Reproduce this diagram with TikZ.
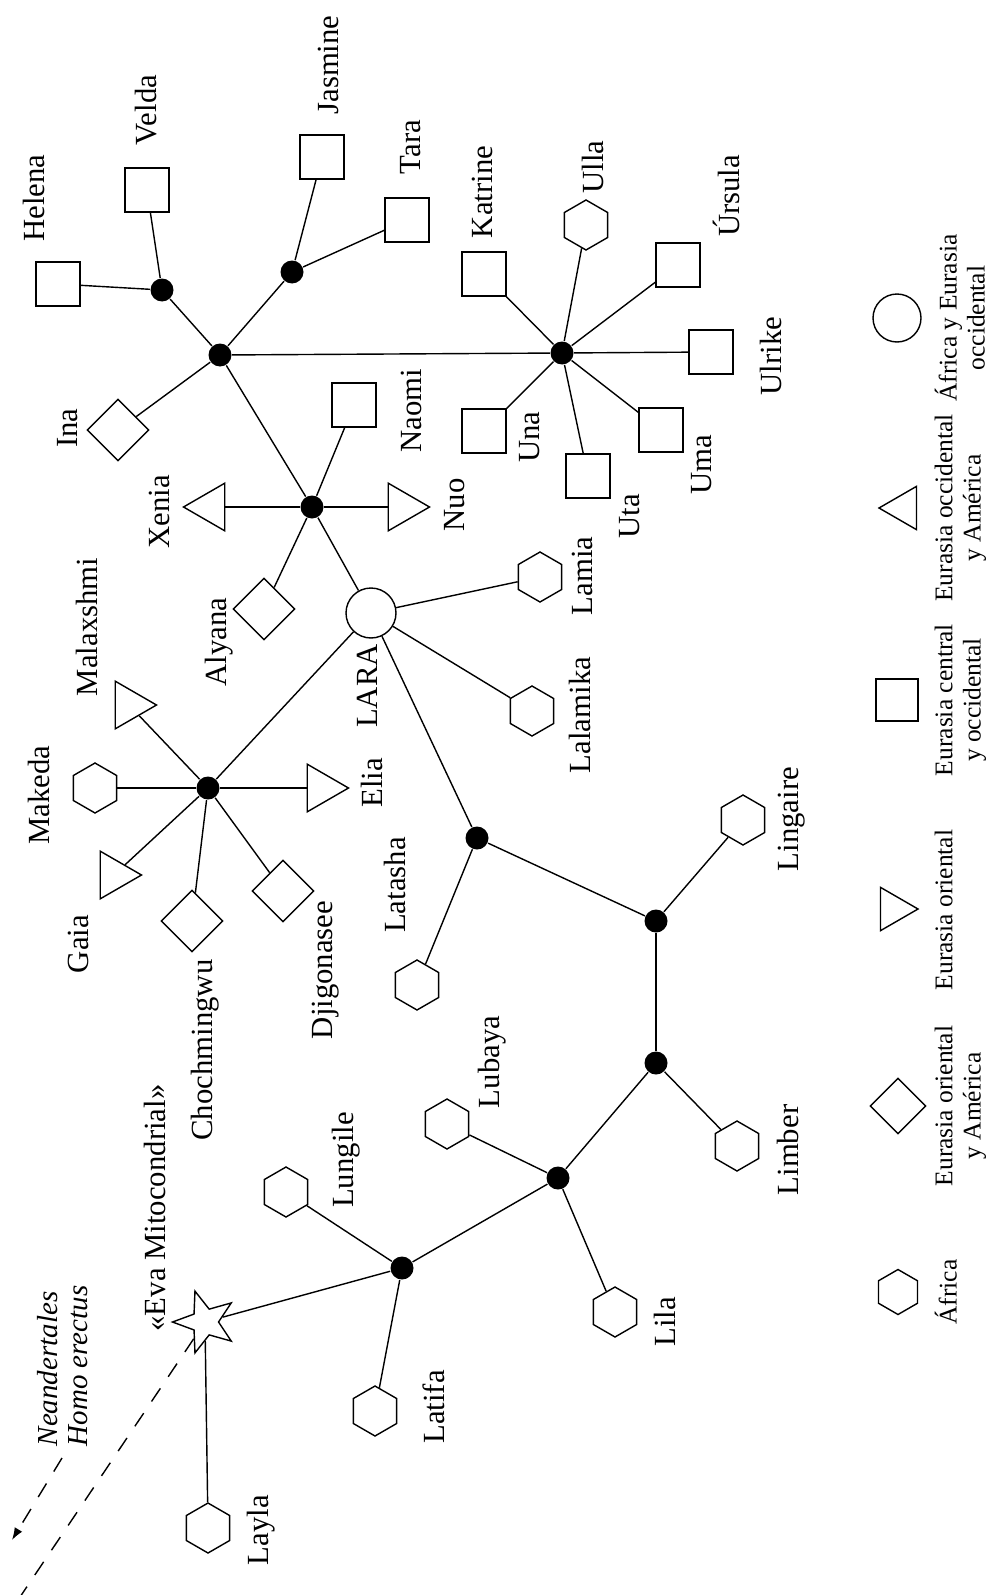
\documentclass[tikz,border=0pt]{standalone}
\usepackage{fontspec}
\setmainfont{Liberation Serif}
\usetikzlibrary{shapes.geometric,arrows.meta}
\begin{document}
\begin{tikzpicture}[x=0.02cm,y=-0.02cm,line width=0.8pt,
  hexa/.style={draw,fill=white,regular polygon,regular polygon sides=6,regular polygon rotate=30,minimum size=1cm,inner sep=0pt},
  lhexa/.style={hexa,minimum size=0.9cm},
  sq/.style={draw,fill=white,rectangle,minimum size=0.88cm,inner sep=0pt},
  lsq/.style={sq,minimum size=0.84cm},
  dia/.style={draw,fill=white,diamond,aspect=1,minimum width=1.24cm,minimum height=1.24cm,inner sep=0pt},
  ldia/.style={dia,minimum width=1.12cm,minimum height=1.12cm},
  trir/.style={draw,fill=white,regular polygon,regular polygon sides=3,regular polygon rotate=-90,minimum size=1.1cm,inner sep=0pt},
  tril/.style={draw,fill=white,regular polygon,regular polygon sides=3,regular polygon rotate=90,minimum size=1.1cm,inner sep=0pt},
  ring/.style={draw,fill=white,circle,minimum size=1cm,inner sep=0pt},
  hub/.style={circle,fill=black,minimum size=0.46cm,inner sep=0pt},
  nm/.style={rotate=90,inner sep=0pt,font=\fontsize{17.5}{20}\selectfont},
  itl/.style={rotate=90,inner sep=0pt,font=\fontsize{16.5}{19}\selectfont\itshape},
  leg/.style={rotate=90,inner sep=0pt,anchor=north,align=center,font=\fontsize{14.5}{16}\selectfont},
  dsh/.style={dash pattern=on 9pt off 8pt}]
\useasboundingbox (0,0) rectangle (990,1595);
\fill[white] (0,0) rectangle (990,1595);

% hubs
\node[hub] (hA) at (220,355) {};
\node[hub] (hHV) at (162,290) {};
\node[hub] (hJT) at (292,272) {};
\node[hub] (hU) at (562,353) {};
\node[hub] (hX) at (312,507) {};
\node[hub] (hM) at (208,788) {};
\node[hub] (hLat) at (477,838) {};
\node[hub] (hLing) at (656,921) {};
\node[hub] (hLim) at (656,1063) {};
\node[hub] (hLub) at (558,1178) {};
\node[hub] (hEva) at (402,1268) {};

% individuals
\node[sq] (Helena) at (58,284) {};
\node[sq] (Velda) at (147,190) {};
\node[sq] (Jasmine) at (322,157) {};
\node[sq] (Tara) at (407,220) {};
\node[dia] (Ina) at (118,430) {};
\node[sq] (Katrine) at (484,274) {};
\node[hexa] (Ulla) at (586,225) {};
\node[sq] (Ursula) at (678,265) {};
\node[sq] (Ulrike) at (711,352) {};
\node[sq] (Uma) at (661,430) {};
\node[sq] (Uta) at (588,476) {};
\node[sq] (Una) at (484,431) {};
\node[sq] (Naomi) at (354,405) {};
\node[tril] (Xenia) at (211,507) {};
\node[trir] (Nuo) at (402,507) {};
\node[dia] (Alyana) at (264,609) {};
\node[ring] (LARA) at (371,613) {};
\node[hexa] (Lamia) at (540,577) {};
\node[hexa] (Lalamika) at (532,711) {};
\node[trir] (Malaxshmi) at (129,705) {};
\node[hexa] (Makeda) at (95,788) {};
\node[trir] (Gaia) at (114,875) {};
\node[dia] (Choch) at (192,921) {};
\node[dia] (Djig) at (283,891) {};
\node[trir] (Elia) at (321,788) {};
\node[hexa] (Latasha) at (417,985) {};
\node[hexa] (Lingaire) at (743,820) {};
\node[hexa] (Limber) at (737,1146) {};
\node[hexa] (Lubaya) at (447,1124) {};
\node[hexa] (Lila) at (615,1312) {};
\node[hexa] (Lungile) at (286,1192) {};
\node[hexa] (Latifa) at (375,1411) {};
\node[hexa] (Layla) at (208,1528) {};
\node[draw,fill=white,star,star points=5,star point ratio=2.4,shape border rotate=90,minimum size=1.3cm,inner sep=0pt] (Eva) at (205,1322) {};

% connectors
\draw (hA) -- (Ina);
\draw (hA) -- (hHV);
\draw (hA) -- (hJT);
\draw (hA) -- (hU);
\draw (hA) -- (hX);
\draw (hHV) -- (Helena);
\draw (hHV) -- (Velda);
\draw (hJT) -- (Jasmine);
\draw (hJT) -- (Tara);
\foreach \t in {Katrine,Ulla,Ursula,Ulrike,Uma,Uta,Una} \draw (hU) -- (\t);
\foreach \t in {Naomi,Xenia,Nuo,Alyana,LARA} \draw (hX) -- (\t);
\foreach \t in {Lamia,Lalamika,hLat,hM} \draw (LARA) -- (\t);
\foreach \t in {Malaxshmi,Makeda,Gaia,Choch,Djig,Elia} \draw (hM) -- (\t);
\draw (hLat) -- (Latasha);
\draw (hLat) -- (hLing);
\draw (hLing) -- (Lingaire);
\draw (hLing) -- (hLim);
\draw (hLim) -- (Limber);
\draw (hLim) -- (hLub);
\draw (hLub) -- (Lubaya);
\draw (hLub) -- (Lila);
\draw (hLub) -- (hEva);
\draw (hEva) -- (Lungile);
\draw (hEva) -- (Latifa);
\draw (hEva) -- (Eva);
\draw (Eva) -- (Layla);

% dashed lineages
\coordinate (dEnd) at (20,1597);
\draw[dsh] (Eva) -- (dEnd);
\coordinate (aStart) at (62,1458);
\coordinate (aEnd) at (12,1540);
\draw[dsh,-{Latex[length=7pt,width=5pt]}] (aStart) -- (aEnd);

% labels
\node[nm] (tHelena) at (34,198) {Helena};
\node[nm] (tVelda) at (146,110) {Velda};
\node[nm] (tJasmine) at (328,65) {Jasmine};
\node[nm] (tTara) at (411,147) {Tara};
\node[nm] (tKatrine) at (482,192) {Katrine};
\node[nm] (tUlla) at (593,167) {Ulla};
\node[nm] (tUrsula) at (726,196) {Úrsula};
\node[nm] (tUlrike) at (771,356) {Ulrike};
\node[nm] (tUma) at (702,465) {Uma};
\node[nm] (tUta) at (630,516) {Uta};
\node[nm] (tUna) at (530,437) {Una};
\node[nm] (tNaomi) at (411,411) {Naomi};
\node[nm] (tIna) at (68,428) {Ina};
\node[nm] (tXenia) at (159,512) {Xenia};
\node[nm] (tNuo) at (455,505) {Nuo};
\node[nm] (tAlyana) at (219,642) {Alyana};
\node[nm] (tLARA) at (367,686) {LARA};
\node[nm] (tLamia) at (582,576) {Lamia};
\node[nm] (tLalamika) at (580,715) {Lalamika};
\node[nm] (tMalaxshmi) at (87,627) {Malaxshmi};
\node[nm] (tMakeda) at (39,795) {Makeda};
\node[nm] (tGaia) at (78,944) {Gaia};
\node[nm] (tChoch) at (205,1050) {Chochmingwu};
\node[nm] (tDjig) at (326,970) {Djigonasee};
\node[nm] (tElia) at (372,783) {Elia};
\node[nm] (tLatasha) at (395,885) {Latasha};
\node[nm] (tLingaire) at (792,819) {Lingaire};
\node[nm] (tLimber) at (788,1150) {Limber};
\node[nm] (tLubaya) at (492,1062) {Lubaya};
\node[nm] (tLila) at (665,1322) {Lila};
\node[nm] (tLungile) at (346,1160) {Lungile};
\node[nm] (tLatifa) at (434,1407) {Latifa};
\node[nm] (tLayla) at (261,1530) {Layla};
\node[nm] (tEva) at (155,1208) {«Eva Mitocondrial»};
\node[itl,anchor=west] (tNea) at (48,1447) {Neandertales};
\node[itl,anchor=west] (tHomo) at (78,1447) {Homo erectus};

% legend
\node[ring,minimum size=0.96cm] (kCirc) at (897,318) {};
\node[tril,minimum size=1cm] (kTriL) at (904,508) {};
\node[lsq] (kSq) at (897,700) {};
\node[trir,minimum size=1cm] (kTriR) at (893,909) {};
\node[ldia] (kDia) at (898,1106) {};
\node[lhexa] (kHex) at (898,1292) {};
\node[leg] (kt1) at (934,318) {África y Eurasia\\occidental};
\node[leg] (kt2) at (934,508) {Eurasia occidental\\y América};
\node[leg] (kt3) at (934,700) {Eurasia central\\y occidental};
\node[leg] (kt4) at (934,910) {Eurasia oriental};
\node[leg] (kt5) at (934,1106) {Eurasia oriental\\y América};
\node[leg] (kt6) at (934,1292) {África};
\end{tikzpicture}
\end{document}
